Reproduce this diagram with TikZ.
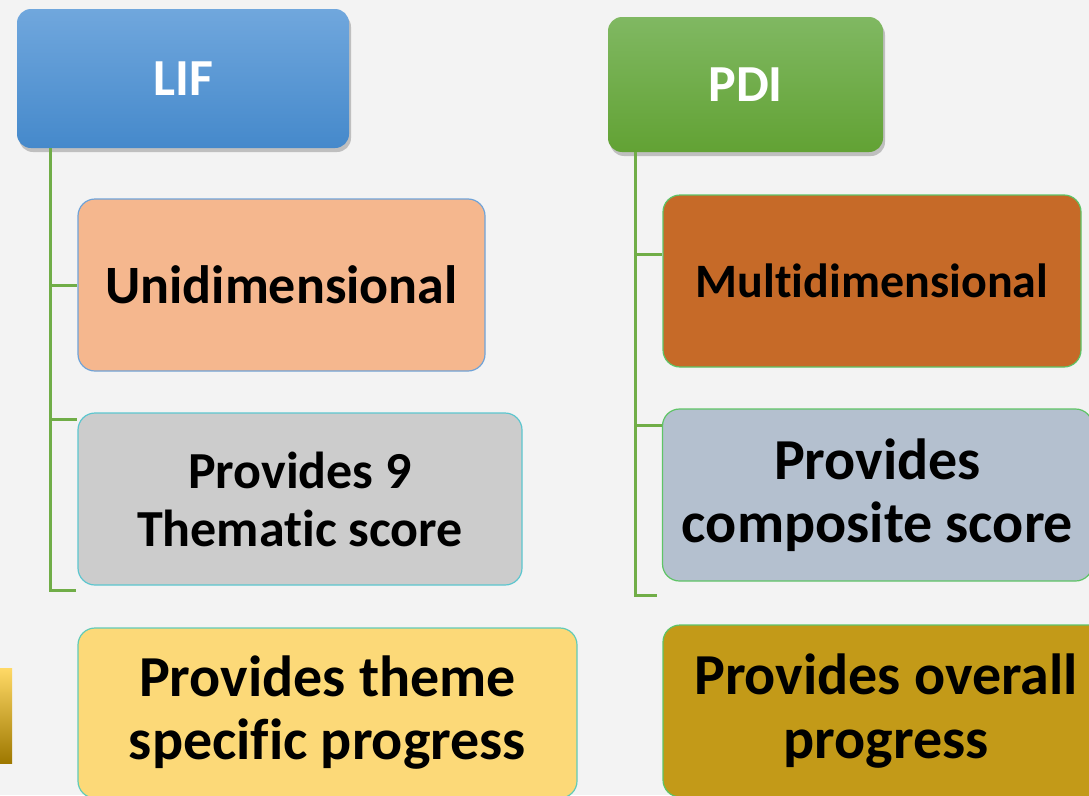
\documentclass[tikz,border=0pt]{standalone}
\usepackage{fontspec}
\setmainfont{Carlito}[Ligatures={NoCommon}]
\usetikzlibrary{shadows,positioning}
\definecolor{bg}{HTML}{F3F3F3}
\definecolor{lnk}{HTML}{70AD47}
\definecolor{lifT}{HTML}{70A7DD}
\definecolor{lifB}{HTML}{4589CB}
\definecolor{pdiT}{HTML}{80B862}
\definecolor{pdiB}{HTML}{62A234}
\definecolor{uniF}{HTML}{F5B78E}
\definecolor{uniD}{HTML}{6FA3D8}
\definecolor{grF}{HTML}{CCCCCC}
\definecolor{cyD}{HTML}{5CC6CF}
\definecolor{yeF}{HTML}{FCD978}
\definecolor{yeD}{HTML}{62CBB8}
\definecolor{orF}{HTML}{C66A28}
\definecolor{grnD}{HTML}{5EC466}
\definecolor{gbF}{HTML}{B4C0CF}
\definecolor{goF}{HTML}{C39A18}
\definecolor{stT}{HTML}{FFD966}
\definecolor{stM}{HTML}{FFC000}
\definecolor{stB}{HTML}{9E7800}
\tikzset{
  x=1pt, y=-1pt,
  headbox/.style={rounded corners=14pt, text=white, inner sep=4pt,
    drop shadow={shadow xshift=2pt, shadow yshift=-4pt, opacity=0.45}},
  itembox/.style={rounded corners=17pt, line width=1.2pt, text=black, align=center, inner sep=4pt},
  link/.style={draw=lnk, line width=3pt}
}
\begin{document}
\begin{tikzpicture}
\fill[bg] (0,0) rectangle (1089,795);
\useasboundingbox (0,0) rectangle (1089,795);
% header boxes
\node[headbox, top color=lifT, bottom color=lifB, minimum width=332pt, minimum height=139pt,
  font=\bfseries\fontsize{52}{56}\selectfont] (lif) at (183,78.5) {LIF};
\node[headbox, top color=pdiT, bottom color=pdiB, minimum width=275pt, minimum height=135pt,
  font=\bfseries\fontsize{52}{56}\selectfont] (pdi) at (745.5,84.5) {PDI};
% left column
\node[itembox, fill=uniF, draw=uniD, minimum width=407pt, minimum height=172pt,
  font=\bfseries\fontsize{54}{58}\selectfont] (uni) at (281.5,285) {Unidimensional};
\node[itembox, fill=grF, draw=cyD, minimum width=444pt, minimum height=172pt,
  font=\bfseries\fontsize{52}{58}\selectfont] (nine) at (300,499) {Provides 9\\Thematic score};
\node[itembox, fill=yeF, draw=yeD, minimum width=499pt, minimum height=170pt,
  font=\bfseries\fontsize{58}{63}\selectfont] (theme) at (327.5,713) {Provides theme\\specific progress};
% right column
\node[itembox, fill=orF, draw=grnD, minimum width=418pt, minimum height=172pt,
  font=\bfseries\fontsize{48}{52}\selectfont] (multi) at (872,281) {Multidimensional};
\node[itembox, fill=gbF, draw=grnD, minimum width=430pt, minimum height=172pt,
  font=\bfseries\fontsize{58}{63}\selectfont] (comp) at (877.5,495) {Provides\\composite score};
\node[itembox, fill=goF, draw=grnD, minimum width=446pt, minimum height=172pt,
  font=\bfseries\fontsize{58}{64}\selectfont] (over) at (886,711) {Provides overall\\progress};
% connectors
\coordinate (la) at (50,148);
\coordinate (lb) at (50,590);
\coordinate (lbe) at (76,590);
\draw[link] (lif.south west -| la) -- (lb) -- (lbe);
\draw[link] (uni.west -| la) -- (uni.west);
\draw[link] (nine.north west -| la) ++(0,7) coordinate (n1) -- (n1 -| nine.west);
\coordinate (ra) at (635,152);
\coordinate (rb) at (635,595);
\coordinate (rbe) at (657,595);
\draw[link] (pdi.south west -| ra) -- (rb) -- (rbe);
\draw[link] (ra |- 254,254) coordinate (r1) -- (r1 -| multi.west);
\draw[link] (ra |- 425,425) coordinate (r2) -- (r2 -| comp.west);
% gradient strip
\shade[top color=stT, middle color=stM, bottom color=stB] (0,668) rectangle (12,763);
\end{tikzpicture}
\end{document}
